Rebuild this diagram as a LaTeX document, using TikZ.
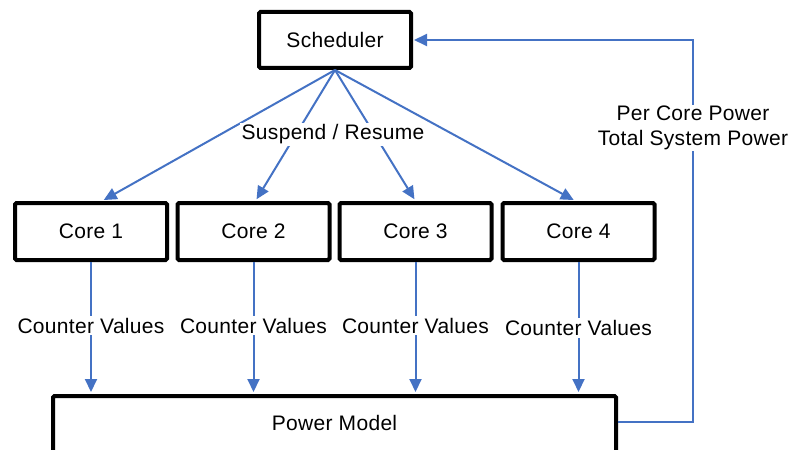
\documentclass[tikz,border=0pt]{standalone}
\usepackage{fontspec}
\setmainfont{Liberation Sans}[LetterSpace=1.5]
\usetikzlibrary{arrows.meta,calc}
\definecolor{lnblue}{HTML}{4472C4}
\begin{document}
\begin{tikzpicture}[x=1pt,y=-1pt,
  font=\fontsize{21}{24.5}\selectfont,
  box/.style={draw=black,line width=4pt,rounded corners=1.5pt,minimum width=152pt,minimum height=57pt,inner sep=0pt,fill=white},
  arr/.style={draw=lnblue,line width=2pt,-{Triangle[length=13pt,width=12pt]},shorten >=2pt},
  lbl/.style={fill=white,inner sep=2pt,align=center}]
\useasboundingbox (0,0) rectangle (791,449);
\clip (0,0) rectangle (791,449);
\node[box,minimum height=56pt] (sch) at (335,40) {Scheduler};
\node[box] (c1) at (91,231.5) {Core 1};
\node[box] (c2) at (253.5,231.5) {Core 2};
\node[box] (c3) at (415.5,231.5) {Core 3};
\node[box] (c4) at (578.5,231.5) {Core 4};
\node[box,minimum width=563pt,minimum height=0pt,text height=34pt,text depth=50pt,anchor=north] (pm) at (334.5,394) {Power Model};
\draw[arr] (sch.south) -- ([xshift=11pt]c1.north);
\draw[arr] (sch.south) -- ([xshift=2pt]c2.north);
\draw[arr] (sch.south) -- (c3.north);
\draw[arr] (sch.south) -- ([xshift=-3pt]c4.north);
\node[lbl] (sr) at (333,134.5) {Suspend / Resume};
\draw[arr] (c1.south) -- node[lbl,yshift=2.5pt]{Counter Values} (c1.south |- pm.north);
\draw[arr] (c2.south) -- node[lbl,yshift=2.5pt]{Counter Values} (c2.south |- pm.north);
\draw[arr] (c3.south) -- node[lbl,yshift=2.5pt]{Counter Values} (c3.south |- pm.north);
\draw[arr] (c4.south) -- node[lbl]{Counter Values} (c4.south |- pm.north);
\coordinate (fb1) at (693,422);
\coordinate (fb2) at (693,40);
\draw[arr,shorten >=1pt] (fb1 -| pm.east) -- (fb1) -- node[lbl,pos=0.77,inner sep=1pt]{Per Core Power\\Total System Power} (fb2) -- (sch.east);
\end{tikzpicture}
\end{document}
